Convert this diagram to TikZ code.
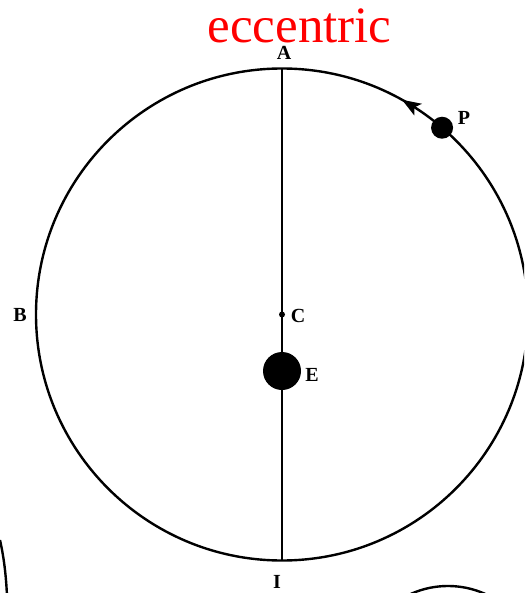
\documentclass[tikz,border=0pt]{standalone}
\usepackage{fontspec}
\setmainfont{Liberation Serif}
\usetikzlibrary{arrows.meta,calc}
\begin{document}
\begin{tikzpicture}[x=1pt,y=-1pt,
  orbit/.style={line width=2.4pt},
  axis/.style={line width=1.6pt},
  lbl/.style={font=\fontsize{20}{20}\selectfont\bfseries, inner sep=0pt},
  body/.style={circle, fill=black, inner sep=0pt}]
\clip (0,0) rectangle (524,593);
\useasboundingbox (0,0) rectangle (524,593);
\fill[white] (0,0) rectangle (524,593);
\coordinate (C) at (282,314.5);
\coordinate (Atop) at (282,68.5);
\coordinate (Ibot) at (282,560.5);
\draw[orbit] (C) circle[radius=246];
\draw[axis] (Atop) -- (Ibot);
\node[body, minimum size=38pt] (E) at (282,371) {};
\node[body, minimum size=6pt] (Cdot) at (C) {};
\node[body, minimum size=22pt] (P) at ($(C)+(-49.4:246)$) {};
% arrowhead on the orbit
\fill ($(C)+(-60.8:246)$) -- ($(C)+(-56.4:253)$) -- ($(C)+(-57.4:246)$) -- ($(C)+(-56.4:239)$) -- cycle;
% partial shapes at the bottom edge
\draw[orbit] (0,540) .. controls (4,558) and (6,575) .. (7,596);
\draw[orbit] (448,677) ++(-122:91) arc[start angle=-122, end angle=-58, radius=91];
% labels
\node[lbl] (Alab) at (284,52.5) {A};
\node[lbl] (Blab) at (20,315) {B};
\node[lbl] (Clab) at (298,316) {C};
\node[lbl] (Elab) at (312,375) {E};
\node[lbl] (Plab) at (464,118) {P};
\node[lbl] (Ilab) at (277,582) {I};
\node[anchor=base, text=red, inner sep=0pt, font=\fontsize{51}{51}\selectfont] (title) at (299.5,43) {eccentric};
\end{tikzpicture}
\end{document}
